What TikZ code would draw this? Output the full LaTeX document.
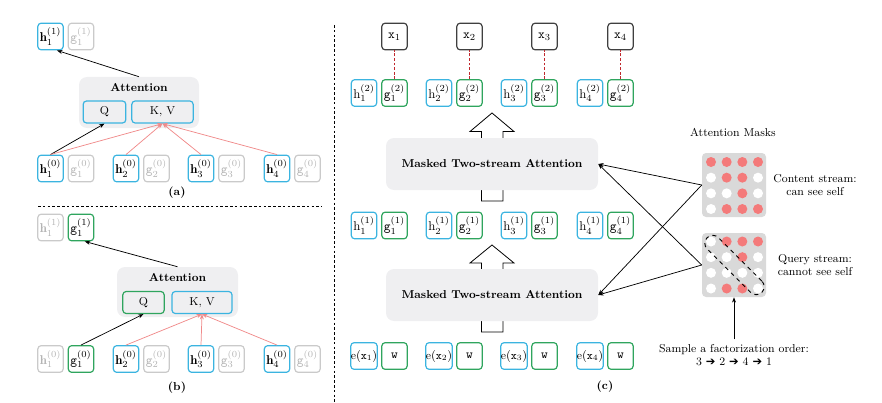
\documentclass[tikz,border=0pt]{standalone}
\usepackage{amsmath,amssymb}
\usepackage{fontspec}
\newfontfamily\dejavu{DejaVu Sans}
\usetikzlibrary{arrows.meta,shapes.geometric}
\definecolor{hc}{HTML}{3BB4E0}
\definecolor{gc}{HTML}{2FA55E}
\definecolor{fade}{HTML}{CACACA}
\definecolor{fadetext}{HTML}{B4B4B4}
\definecolor{redar}{HTML}{F08A8A}
\definecolor{reddash}{HTML}{C0282D}
\definecolor{attbg}{HTML}{EFEFF1}
\definecolor{maskbg}{HTML}{D9D9D9}
\definecolor{dotred}{HTML}{F47A7A}
\newcommand{\ordarrow}{{\dejavu\fontsize{8.6}{10}\selectfont ➔}}
\begin{document}
\begin{tikzpicture}[x=0.75pt,y=-0.75pt,
  every node/.style={font=\fontsize{8.6}{10}\selectfont},
  cell/.style={draw, rounded corners=2.5pt, line width=0.9pt, minimum width=19pt, minimum height=20pt, inner sep=0pt, font=\fontsize{9.6}{11}\selectfont},
  hbox/.style={cell, draw=hc},
  gbox/.style={cell, draw=gc},
  fbox/.style={cell, draw=fade, text=fadetext},
  xbox/.style={cell, draw=black!75},
  qkbox/.style={cell, minimum height=16.5pt, font=\fontsize{8.6}{10}\selectfont},
  attn/.style={fill=attbg, rounded corners=6pt, draw=none, inner sep=0pt},
  blk/.style={-{Stealth[length=4pt,width=3pt]}, line width=0.55pt, black},
  redarrow/.style={-{Stealth[length=4pt,width=3pt]}, line width=0.55pt, redar},
  rdash/.style={line width=1.1pt, reddash, dash pattern=on 2.2pt off 1.2pt},
  sep/.style={line width=0.6pt, dash pattern=on 2pt off 1.6pt},
  hollow/.style={draw=black, line width=0.6pt, fill=white},
  maskbox/.style={fill=maskbg, rounded corners=3pt, minimum width=48pt, minimum height=48pt, inner sep=0pt, draw=none},
  rdot/.style={circle, fill=dotred, minimum size=7.5pt, inner sep=0pt},
  wdot/.style={circle, fill=white, minimum size=7.5pt, inner sep=0pt},
  lbl/.style={font=\fontsize{8.6}{10}\selectfont\bfseries}
]
\useasboundingbox (0,0) rectangle (882,403);

% ---------------- (a) ----------------
\node[hbox] (a-h1t) at (50.5,36.5) {$\mathbf{h}_1^{(1)}$};
\node[fbox] (a-g1t) at (81,36.5) {$\mathtt{g}_1^{(1)}$};
\node[attn, minimum width=90pt, minimum height=38.25pt] (a-att) at (139,102.5) {};
\node[lbl] (a-title) at (139,88) {Attention};
\node[qkbox, draw=hc, minimum width=32pt] (a-q) at (104.5,112) {Q};
\node[qkbox, draw=hc, minimum width=46pt] (a-kv) at (162.5,112) {K, V};
\foreach \i/\x in {1/50.5,2/126,3/201,4/277}{
  \node[hbox] (a-h\i) at (\x,168.5) {$\mathbf{h}_\i^{(0)}$};
  \node[fbox] (a-g\i) at (\x+30.5,168.5) {$\mathtt{g}_\i^{(0)}$};
}
\draw[blk] (a-h1.north) -- (a-q.south);
\foreach \i in {1,2,3,4}{ \draw[redarrow] (a-h\i.north) -- (a-kv.south); }
\draw[blk] (a-att.north) -- (a-h1t.-65);
\node[lbl] (a-lab) at (177,193) {(a)};

\draw[sep] (38,206) -- (322,206);

% ---------------- (b) ----------------
\node[fbox] (b-h1t) at (50.5,227.5) {$\mathbf{h}_1^{(1)}$};
\node[gbox] (b-g1t) at (81,227.5) {$\mathtt{g}_1^{(1)}$};
\node[attn, minimum width=90.75pt, minimum height=37.5pt] (b-att) at (177.5,292) {};
\node[lbl] (b-title) at (177.5,278) {Attention};
\node[qkbox, draw=gc, minimum width=31pt] (b-q) at (143.5,302.5) {Q};
\node[qkbox, draw=hc, minimum width=45pt] (b-kv) at (202,302.5) {K, V};
\node[fbox] (b-h1) at (50.5,359) {$\mathbf{h}_1^{(0)}$};
\node[gbox] (b-g1) at (81,359) {$\mathtt{g}_1^{(0)}$};
\foreach \i/\x in {2/126,3/201,4/277}{
  \node[hbox] (b-h\i) at (\x,359) {$\mathbf{h}_\i^{(0)}$};
  \node[fbox] (b-g\i) at (\x+30.5,359) {$\mathtt{g}_\i^{(0)}$};
}
\draw[blk] (b-g1.north) -- (b-q.south);
\foreach \i in {2,3,4}{ \draw[redarrow] (b-h\i.north) -- (b-kv.south); }
\draw[blk] (b-att.north) -- (b-g1t.-75);
\node[lbl] (b-lab) at (177,388) {(b)};

\draw[sep] (334,25) -- (334,403);

% ---------------- (c) ----------------
\draw[hollow] (481.5,201) -- (481.5,131.5) -- (470,131.5) -- (492,113) -- (514,131.5) -- (503,131.5) -- (503,201) -- cycle;
\draw[hollow] (481.5,332) -- (481.5,263) -- (470,263) -- (492,245) -- (514,263) -- (503,263) -- (503,332) -- cycle;
\node[attn, minimum width=159pt, minimum height=39pt, font=\fontsize{8.6}{10}\selectfont\bfseries] (up) at (492,164) {Masked Two-stream Attention};
\node[attn, minimum width=159pt, minimum height=39pt, font=\fontsize{8.6}{10}\selectfont\bfseries] (low) at (492,295) {Masked Two-stream Attention};

\foreach \i/\x in {1/364,2/439,3/514,4/590}{
  \node[xbox] (x\i) at (\x+30.5,36.5) {$\mathtt{x}_\i$};
  \node[hbox] (c2h\i) at (\x,93) {$\mathrm{h}_\i^{(2)}$};
  \node[gbox] (c2g\i) at (\x+30.5,93) {$\mathtt{g}_\i^{(2)}$};
  \draw[rdash] (c2g\i.north) -- (x\i.south);
  \node[hbox] (c1h\i) at (\x,225.5) {$\mathrm{h}_\i^{(1)}$};
  \node[gbox] (c1g\i) at (\x+30.5,225.5) {$\mathtt{g}_\i^{(1)}$};
  \node[hbox, font=\fontsize{8.6}{10}\selectfont] (e\i) at (\x,356) {$\mathrm{e}(\mathtt{x}_\i)$};
  \node[gbox] (w\i) at (\x+30.5,356) {$\mathtt{w}$};
}
\node[lbl] (c-lab) at (605,387) {(c)};

% masks
\node (mtitle) at (733,132) {Attention Masks};
\node[maskbox] (cmask) at (734,185) {};
\node[maskbox] (qmask) at (734,265) {};
\foreach \r/\row in {0/{1,1,1,1},1/{0,1,1,0},2/{0,0,1,0},3/{0,1,1,1}}{
  \foreach \v [count=\c from 0] in \row {
    \pgfmathsetmacro\xx{711+\c*15.67}
    \pgfmathsetmacro\yy{162+\r*15.67}
    \ifnum\v=1 \node[rdot] at (\xx,\yy) {}; \else \node[wdot] at (\xx,\yy) {}; \fi
  }
}
\foreach \r/\row in {0/{0,1,1,1},1/{0,0,1,0},2/{0,0,0,0},3/{0,1,1,0}}{
  \foreach \v [count=\c from 0] in \row {
    \pgfmathsetmacro\xx{711+\c*15.67}
    \pgfmathsetmacro\yy{241.5+\r*15.67}
    \ifnum\v=1 \node[rdot] at (\xx,\yy) {}; \else \node[wdot] at (\xx,\yy) {}; \fi
  }
}
\node[draw, dashed, line width=0.7pt, rotate=-45, minimum width=58pt, minimum height=12pt, rounded corners=6pt, inner sep=0pt] (diag) at (734.5,265) {};

\node[align=center] (ctext) at (815,185) {Content stream:\\can see self};
\node[align=center] (qtext) at (815,265) {Query stream:\\cannot see self};
\node[align=center] (stext) at (734,355) {Sample a factorization order:\\3 \ordarrow{} 2 \ordarrow{} 4 \ordarrow{} 1};

\draw[blk] (cmask.west) -- (up.east);
\draw[blk] (qmask.west) -- (up.east);
\draw[blk] (cmask.west) -- (low.east);
\draw[blk] (qmask.west) -- (low.east);
\draw[blk] (stext.north) -- (qmask.south);
\end{tikzpicture}
\end{document}
